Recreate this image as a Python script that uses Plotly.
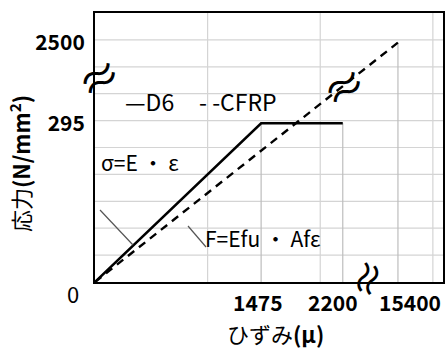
import numpy as np
import plotly.graph_objects as go

# ---- data ----
d6_strain = [0, 1475, 2200]          # μ
d6_stress = [0, 295, 295]            # N/mm2
cfrp_strain = [0, 15400]
cfrp_stress = [0, 2500]
x_tick_vals = [1475, 2200, 15400]
x_tick_text = ["1475", "2200", "15400"]
y_tick_vals = [295, 2500]
y_tick_text = ["295", "2500"]
x_grid = [1000, 2000, 3000]
y_grid = [50, 100, 150, 200, 250, 300, 350, 400, 450]

# ---- broken-axis scales (linear part, then compressed after the break) ----
def xs(v):
    return np.interp(np.asarray(v, float), [0, 2200, 15400], [0, 2.2, 2.69])

def ys(v):
    return np.interp(np.asarray(v, float), [0, 295, 2500], [0, 295, 445])

W, H = 447, 349
L, R, T, B = 95, 4, 13, 67
XR = [0, 3.09]
YR = [0, 500]
FONT = "Noto Sans CJK JP"
GRID = "#d4d4d4"

def px(xp):
    return (xp - L) / (W - L - R)

def py(yp):
    return (H - B - yp) / (H - T - B)

fig = go.Figure()

# drop lines
for sx, sy in [(1475, 295), (2200, 295), (15400, 2500)]:
    fig.add_trace(go.Scatter(x=xs([sx, sx]), y=ys([0, sy]), mode="lines",
                             line=dict(color="#bdbdbd", width=1.2),
                             hoverinfo="skip", showlegend=False))

fig.add_trace(go.Scatter(x=xs(cfrp_strain), y=ys(cfrp_stress), mode="lines",
                         name="CFRP", line=dict(color="black", width=2.4, dash="8px,6px"),
                         showlegend=False))
fig.add_trace(go.Scatter(x=xs(d6_strain), y=ys(d6_stress), mode="lines",
                         name="D6", line=dict(color="black", width=2.5),
                         showlegend=False))

fig.update_xaxes(range=XR, showline=True, linecolor="black", linewidth=2, mirror=True,
                 showticklabels=False, ticks="", showgrid=False, zeroline=False,
                 automargin=False)
fig.update_yaxes(range=YR, showline=True, linecolor="black", linewidth=2, mirror=True,
                 tickmode="array", tickvals=ys(y_tick_vals), ticktext=y_tick_text,
                 ticks="", showgrid=False, zeroline=False, ticklabelstandoff=4,
                 automargin=False,
                 tickfont=dict(family=FONT, size=21, color="black", weight="bold"))

shapes = []
for g in x_grid:
    shapes.append(dict(type="line", xref="x", yref="y", x0=g / 1000.0, x1=g / 1000.0,
                       y0=YR[0], y1=YR[1], layer="below", line=dict(color=GRID, width=1.2)))
for g in y_grid:
    shapes.append(dict(type="line", xref="x", yref="y", x0=XR[0], x1=XR[1],
                       y0=g, y1=g, layer="below", line=dict(color=GRID, width=1.2)))

ann = []
def A(text, xp, yp, size=20, xanchor="center", angle=0, bold=False, **kw):
    ann.append(dict(text=text, x=px(xp), y=py(yp), xref="paper", yref="paper",
                    xanchor=xanchor, yanchor="middle", showarrow=False, textangle=angle,
                    font=dict(family=FONT, size=size, color="black",
                              weight="bold" if bold else "normal"), **kw))

# x tick labels (shifted around the break like the original)
x_label_px = [258, 333, 410]
for t, xp in zip(x_tick_text, x_label_px):
    A(t, xp, 302, size=21, bold=True)

A("0", 73, 293, size=22)
A("応力<b>(N/mm<sup>2</sup>)</b>", 20, 164, size=22, angle=-90)
A("ひずみ<b>(μ)</b>", 275, 333, size=22)
A("—D6", 123, 101, size=23, xanchor="left")
A("- -CFRP", 197, 101, size=23, xanchor="left")
A("σ=E ・ ε", 99, 162, size=21, xanchor="left")
A("F=Efu ・ Afε", 203, 238, size=21, xanchor="left")
# break marks
A("≈", 98, 76, size=44, angle=-30)
A("≈", 343, 85, size=44, angle=-30)
A("≈", 366, 278, size=40, angle=-70)

shapes += [
    dict(type="line", xref="paper", yref="paper", x0=px(100), y0=py(210), x1=px(133), y1=py(245),
         line=dict(color="#555555", width=1.2)),
    dict(type="line", xref="paper", yref="paper", x0=px(188), y0=py(226), x1=px(206), y1=py(247),
         line=dict(color="#555555", width=1.2)),
]

fig.update_layout(
    width=W, height=H, autosize=False,
    margin=dict(l=L, r=R, t=T, b=B),
    paper_bgcolor="white", plot_bgcolor="white",
    font=dict(family=FONT, color="black"),
    annotations=ann,
    shapes=shapes,
)

fig.write_html("out.html", config={"displayModeBar": False},
               post_script="document.body.style.margin='0';document.body.style.overflow='hidden';")
